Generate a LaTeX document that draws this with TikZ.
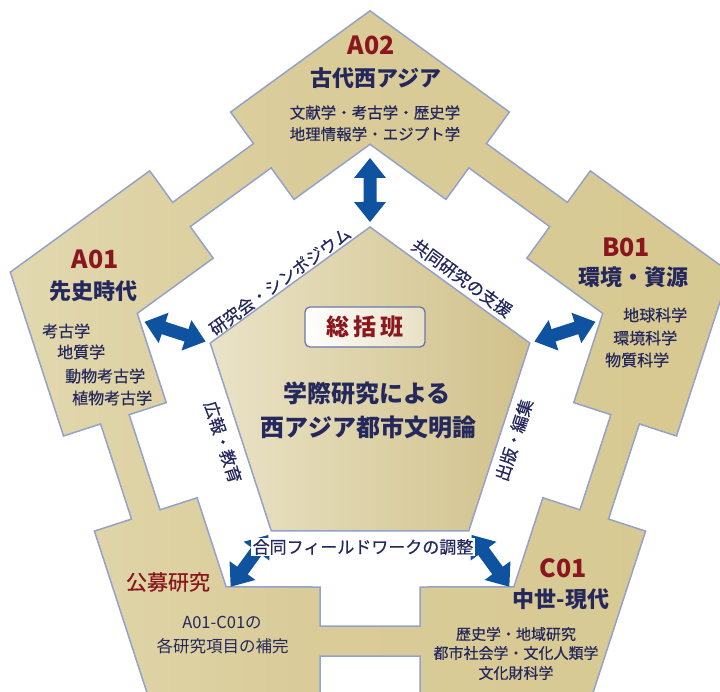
\documentclass[tikz,border=0pt]{standalone}
\usepackage{fontspec}
\setmainfont{Noto Sans CJK JP}
\newfontfamily\jpmed[FakeBold=0.5]{Noto Sans CJK JP}
\usetikzlibrary{calc}
\definecolor{navy}{RGB}{36,40,92}
\definecolor{dred}{RGB}{138,22,30}
\definecolor{edgeblue}{RGB}{148,162,202}
\definecolor{boxedge}{RGB}{105,120,170}
\definecolor{arrowblue}{RGB}{14,82,160}
\definecolor{skfill}{RGB}{232,224,196}
\pgfdeclarehorizontalshading{ringshade}{100bp}{rgb(0bp)=(0.945,0.933,0.88); rgb(22bp)=(0.89,0.855,0.70); rgb(45bp)=(0.855,0.80,0.60); rgb(100bp)=(0.835,0.776,0.545)}
\pgfdeclarehorizontalshading{coreshade}{100bp}{rgb(0bp)=(0.965,0.953,0.905); rgb(45bp)=(0.875,0.835,0.68); rgb(100bp)=(0.77,0.69,0.43)}
\newcommand\myblockarrow[2]{%
  \fill[arrowblue] (#1) -- ($(#1)!25.6pt!38.66:(#2)$) -- ($(#1)!21.03pt!18:(#2)$)
   -- ($(#2)!21.03pt!-18:(#1)$) -- ($(#2)!25.6pt!-38.66:(#1)$) -- (#2)
   -- ($(#2)!25.6pt!38.66:(#1)$) -- ($(#2)!21.03pt!18:(#1)$)
   -- ($(#1)!21.03pt!-18:(#2)$) -- ($(#1)!25.6pt!-38.66:(#2)$) -- cycle;}
\tikzset{
  code/.style={text=dred, font=\bfseries\fontsize{25}{28}\selectfont, inner sep=0pt},
  ttl/.style={text=navy, font=\bfseries\fontsize{22}{25}\selectfont, inner sep=0pt},
  itm/.style={text=navy, font=\jpmed\fontsize{15.5}{18}\selectfont, inner sep=0pt},
  itmb/.style={text=navy, font=\jpmed\fontsize{16}{18}\selectfont, inner sep=0pt, anchor=west},
  bandlbl/.style={text=navy, font=\jpmed\fontsize{17}{20}\selectfont, inner sep=0pt},
  coretxt/.style={font=\bfseries\fontsize{24}{28}\selectfont, inner sep=0pt},
  ringline/.style={draw=edgeblue, line width=1.5pt, line join=miter},
}
\begin{document}
\begin{tikzpicture}[x=1pt,y=-1pt]
\useasboundingbox (0,0) rectangle (720,692);
\fill[white] (0,0) rectangle (720,692);
\begin{scope}
\clip (0,0) rectangle (720,692);
\begin{scope}[shift={(370,389)}, x=1pt, y=1pt]
 \def\ringouter{(90:378.2) \foreach \k in {0,...,4}{ -- ($(126+72*\k:306)+(36+72*\k:50)$) -- ($(126+72*\k:267)+(36+72*\k:50)$) -- ($(126+72*\k:267)+(216+72*\k:50)$) -- ($(126+72*\k:306)+(216+72*\k:50)$) -- (162+72*\k:378.2)} -- cycle}
 \def\ringinner{(90:244.7) \foreach \k in {0,...,4}{ -- ($(126+72*\k:198)+(36+72*\k:50)$) -- ($(126+72*\k:237)+(36+72*\k:50)$) -- ($(126+72*\k:237)+(216+72*\k:50)$) -- ($(126+72*\k:198)+(216+72*\k:50)$) -- (162+72*\k:244.7)} -- cycle}
 \shade[shading=ringshade] \ringouter;
 \fill[white] \ringinner;
 \draw[ringline] \ringouter;
 \draw[ringline] \ringinner;
\end{scope}
\end{scope}
% central pentagon
\begin{scope}[shift={(370,395)}, x=1pt, y=1pt]
 \shadedraw[shading=coreshade, ringline] (90:168) -- (162:168) -- (234:168) -- (306:168) -- (18:168) -- cycle;
 \coordinate (core) at (0,0);
\end{scope}
% arrows
\coordinate (a02in) at (370,222); \coordinate (a02out) at (370,158);
\coordinate (a01in) at (205.5,341.5); \coordinate (a01out) at (144.6,321.8);
\coordinate (b01in) at (534.5,341.5); \coordinate (b01out) at (595.4,321.8);
\coordinate (c01in) at (471.7,535); \coordinate (c01out) at (509.3,586.7);
\coordinate (kbin) at (268.3,535); \coordinate (kbout) at (230.7,586.7);
\myblockarrow{a02in}{a02out}
\myblockarrow{a01in}{a01out}
\myblockarrow{b01in}{b01out}
\myblockarrow{c01in}{c01out}
\myblockarrow{kbin}{kbout}
% band labels
\node[bandlbl, rotate=36] (l1) at (280,281) {研究会・シンポジウム};
\node[bandlbl, rotate=-36] (l2) at (462,278) {共同研究の支援};
\node[bandlbl, rotate=-72] (l3) at (223,442) {広報・教育};
\node[bandlbl, rotate=72] (l4) at (514,440) {出版・編集};
\node[bandlbl, fill=white, inner sep=1.5pt] (l5) at (363,547) {合同フィールドワークの調整};
% central box
\node[draw=boxedge, line width=1.3pt, rounded corners=5pt, left color=white, right color=skfill, minimum width=120pt, minimum height=40pt, inner sep=0pt] (skh) at (365,327) {};
\node[text=dred, font=\bfseries\fontsize{23}{26}\selectfont, inner sep=0pt] (skht) at (365,327) {総\hspace{4pt}括\hspace{4pt}班};
\node[coretxt, text=navy] (core1) at (367,393) {学際研究による};
\node[coretxt, text=navy] (core2) at (368.5,427.5) {西アジア都市文明論};
% A02
\node[code] (a02c) at (371,45) {A02};
\node[ttl] (a02t) at (376,78) {古代西アジア};
\node[itm] (a02i1) at (375,112.5) {文献学・考古学・歴史学};
\node[itm] (a02i2) at (375,134) {地理情報学・エジプト学};
% A01
\node[code] (a01c) at (95,259) {A01};
\node[ttl] (a01t) at (93,291) {先史時代};
\node[itmb] (a01i1) at (42,331) {考古学};
\node[itmb] (a01i2) at (57,352) {地質学};
\node[itmb] (a01i3) at (65,376) {動物考古学};
\node[itmb] (a01i4) at (72,398) {植物考古学};
% B01
\node[code] (b01c) at (626,247) {B01};
\node[ttl] (b01t) at (633,277) {環境・資源};
\node[itmb] (b01i1) at (623,315) {地球科学};
\node[itmb] (b01i2) at (613,338) {環境科学};
\node[itmb] (b01i3) at (605,360) {物質科学};
% C01
\node[itm, font=\jpmed\fontsize{15}{18}\selectfont] (c01i1) at (516,634) {歴史学・地域研究};
\node[itm, font=\jpmed\fontsize{15}{18}\selectfont] (c01i2) at (516,653) {都市社会学・文化人類学};
\node[itm, font=\jpmed\fontsize{15}{18}\selectfont] (c01i3) at (516,673) {文化財科学};
\node[code] (c01c) at (563,568) {C01};
\node[ttl] (c01t) at (561,599) {中世-現代};
% kobo
\node[text=dred, font=\jpmed\fontsize{21}{24}\selectfont, inner sep=0pt] (kb) at (168,582) {公募研究};
\node[itm, font=\fontsize{16.5}{19}\selectfont] (kbi1) at (222,623) {A01-C01の};
\node[itm, font=\fontsize{16.5}{19}\selectfont] (kbi2) at (222.5,646) {各研究項目の補完};
\end{tikzpicture}
\end{document}
